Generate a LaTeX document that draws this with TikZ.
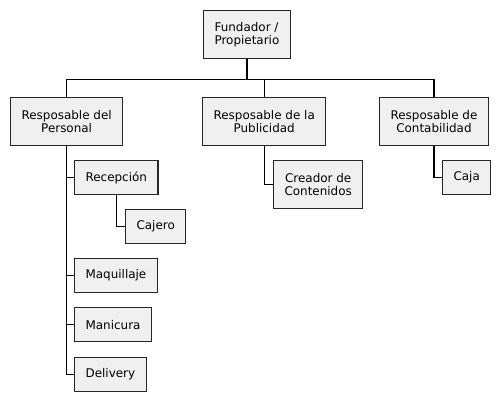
\documentclass[tikz,border=0pt]{standalone}
\usepackage{fontspec}
\setmainfont{DejaVu Sans}
\usepackage{tikz}
\usetikzlibrary{positioning}

\begin{document}
\begin{tikzpicture}[x=1bp,y=-1bp,
    box/.style={draw=black!85,fill=black!6,line width=1.1bp,anchor=north west,
      inner xsep=11bp,minimum height=34bp,align=center,
      font=\fontsize{12}{13.5}\selectfont},
    tallbox/.style={box,minimum height=48bp}]
    \useasboundingbox (0,0) rectangle (497,400);
    % top
    \node[tallbox,align=left] (fund) at (203,10) {Fundador /\\Propietario};
    \node[tallbox] (pers) at (10,97) {Resposable del\\Personal};
    \node[tallbox] (pub) at (202,97) {Resposable de la\\Publicidad};
    \node[tallbox] (cont) at (379,97) {Resposable de\\Contabilidad};
    \path (fund.south) ++(0,20) coordinate (bus);
    \draw[line width=1.1bp] (fund.south) -- (bus);
    \draw[line width=1.1bp] (bus) -| (pers.north);
    \draw[line width=1.1bp] (bus) -| (pub.north);
    \draw[line width=1.1bp] (bus) -| (cont.north);
    % personal
    \node[box] (recep) at (74,160) {Recepción};
    \node[box] (cajero) at (125,209) {Cajero};
    \node[box] (maq) at (74,258) {Maquillaje};
    \node[box] (mani) at (74,307) {Manicura};
    \node[box] (deliv) at (74,357) {Delivery};
    \foreach \n in {recep,maq,mani,deliv}
      \draw[line width=1.1bp] (pers.south) |- (\n.west);
    \draw[line width=1.1bp] (recep.south) |- (cajero.west);
    % publicidad y contabilidad
    \node[tallbox] (creador) at (273,160) {Creador de\\Contenidos};
    \node[box] (caja) at (442,160) {Caja};
    \draw[line width=1.1bp] (pub.south) |- (creador.west);
    \draw[line width=1.1bp] (cont.south) |- (caja.west);
\end{tikzpicture}
\end{document}
